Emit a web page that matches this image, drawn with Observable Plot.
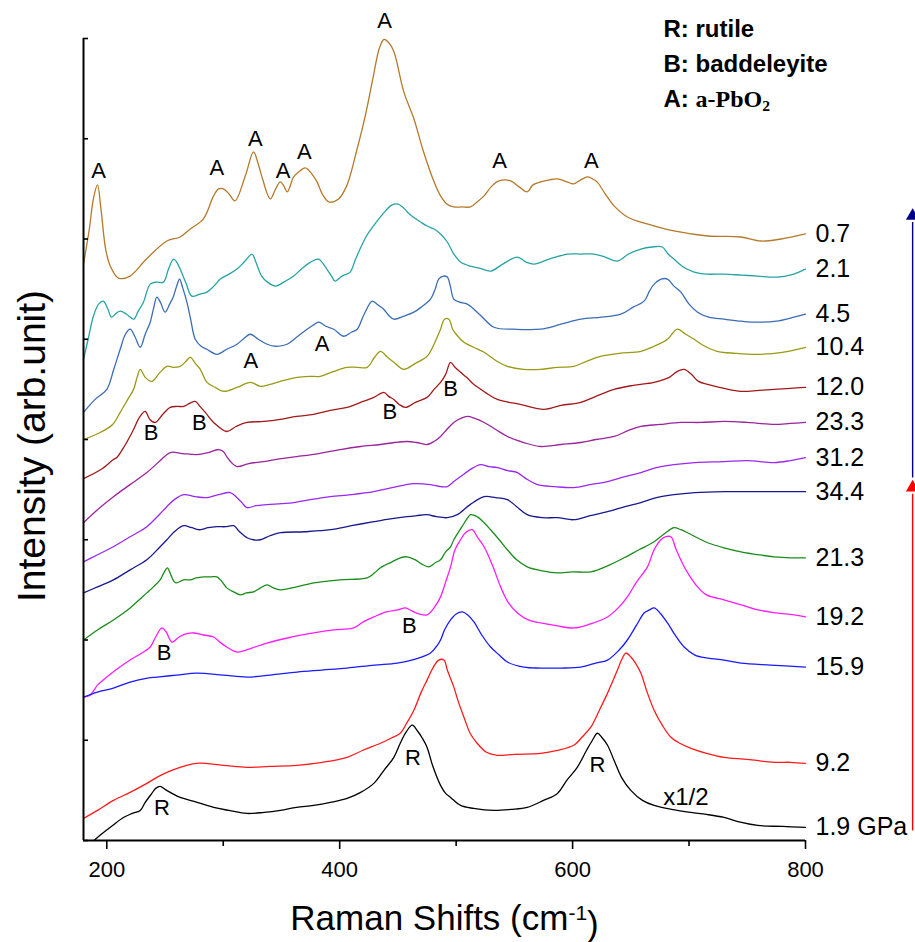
<!DOCTYPE html>
<html><head><meta charset="utf-8">
<script src="https://cdn.jsdelivr.net/npm/d3@7"></script>
<script src="https://cdn.jsdelivr.net/npm/@observablehq/plot@0.6"></script>
<style>body{margin:0;background:#fff}</style>
</head><body><div id="chart"></div>
<script>
// Pressure labels (top to bottom) and colours
const pressures = ["0.7","2.1","4.5","10.4","12.0","23.3","31.2","34.4","21.3","19.2","15.9","9.2","1.9 GPa"];
const colors = ["#b5792a","#27a3a3","#3a6db5","#9a9a14","#a31818","#9b239b","#9a28f0","#18188f","#1a8c1a","#ff1aff","#1a1aff","#ff1a1a","#000000"];

// Spectra: [Raman shift (cm-1), intensity (arb. unit, stacked)]
const s0_7 = [[180,575],[185,610],[188.5,640],[192,654],[195,630],[199,590],[203,573],[210,561],[220,563],[234,580],[251.6,598],[263,602],[271.7,610],[283,620],[291.7,643],[296,650],[300,650],[305,645],[310,638],[319,663],[326,687],[330,675],[333,663],[340.4,640],[345,650],[349,657],[352,653],[355,647],[360.5,662],[366,668],[370.5,671],[376,665],[380.6,657],[385,645],[390.6,637],[399,640],[406,653],[415,690],[422,723],[429,763],[434,790],[438,799],[442,796],[446.5,787],[455,747],[463.7,720],[472,687],[481,657],[486.6,643],[492,635],[498,632],[505,632],[512.4,632],[518,637],[524,643],[530,652],[536.7,658],[546.8,658],[554,652],[561,647],[566,654],[572.6,657],[580,659],[587,660],[595,657],[601,655],[607,659],[612.8,662],[617,660],[621,657],[628,645],[635.6,633],[647,622],[664,615],[687,608],[716,603],[744.6,602],[761.8,598],[779,600],[800,605]];
const s2_1 = [[180,480],[184,500],[188.5,523],[193,535],[197,538],[201,530],[204,522],[208,526],[211.5,528],[217,525],[223,520],[227,528],[231.5,537],[237.3,555],[243,557],[248.7,557],[253,570],[257.3,580],[260,577],[263,570],[268,556],[273,543],[280,545],[286,547],[292,553],[297.5,560],[305,565],[311.8,570],[318,577],[324.7,585],[328,577],[333,563],[338,557],[344.8,553],[352,557],[360.5,563],[368,571],[375,577],[382,580],[386,575],[389,570],[393,563],[396,558],[402,563],[409,567],[413,578],[417.5,590],[423,603],[429,613],[435,622],[440.8,630],[445,634],[449.4,635],[454,632],[458,627],[463,622],[469.4,617],[475,613],[481,610],[486.6,605],[492.4,597],[498,585],[503.8,577],[512,573],[520,571],[529.6,568],[540,575],[552.5,582],[560,577],[566.8,575],[580,580],[595.6,585],[607,585],[618.4,585],[628,582],[638.5,578],[648,585],[658.6,590],[668,592],[677,592],[682,585],[687,580],[695,572],[704.4,567],[715,565],[730,565],[745,564],[759,563],[776,562],[790,565],[800,570]];
const s4_5 = [[180,427],[190,440],[200,450],[206,470],[211.5,490],[216,505],[220,510],[224,503],[228.7,492],[233,505],[237.3,517],[240,530],[243,542],[246,537],[250,527],[254,535],[257.3,543],[260,553],[262.5,560],[265,552],[268.8,537],[272,520],[276,500],[281,493],[286,490],[294.6,485],[303,490],[311.8,495],[317,500],[323.3,505],[330,500],[337.6,495],[345,493],[354.8,495],[363,502],[372,510],[377,514],[382,517],[388,513],[394.9,510],[403.5,503],[410,507],[415,510],[421,525],[427.9,538],[432,535],[437.8,530],[442,524],[446.5,520],[455,523],[463.7,527],[470,532],[478,540],[482,550],[485,560],[489,563],[492.4,562],[495,553],[498,540],[503,537],[509.6,535],[520,525],[532.4,512],[550,510],[572.6,510],[590,515],[607,520],[625,522],[641.4,525],[652,532],[661.4,538],[666,548],[670,555],[676,560],[681.5,560],[687,553],[693,547],[700,535],[707.3,527],[717,522],[730,520],[745,518],[759,517],[775,518],[790,522],[800,525]];
const s10_4 = [[180,400],[194.3,407],[205,415],[211.5,427],[218,440],[223,450],[226,462],[228.7,470],[233,462],[238.7,458],[245,466],[251.6,473],[257,472],[263,473],[268,478],[271.7,482],[276,476],[280.3,470],[286,457],[293,452],[300.3,448],[312,452],[323.3,457],[332,453],[340.4,455],[352,459],[363.4,462],[374,463],[383.4,463],[395,468],[406.4,472],[415,472],[423.6,472],[430,482],[435,488],[441,482],[446.5,477],[455,470],[465,476],[475,483],[481,495],[486.6,510],[490,520],[493.8,520],[497,510],[500,505],[506.7,497],[515,492],[524,487],[535,478],[544,473],[558,470],[572.6,470],[587,472],[601,473],[612,478],[624,483],[640,486],[658.6,488],[670,493],[681.5,500],[690,510],[697,505],[704.4,500],[712,494],[724,488],[740,486],[759,485],[780,487],[800,492]];
const s12_0 = [[180,361],[195,370],[205.7,380],[208.6,382],[215,393],[223,410],[228,422],[233,428],[237,420],[241.6,417],[248,425],[254.5,432],[260,433],[266,433],[271,436],[276,438],[280,433],[284.6,427],[291.7,417],[303,408],[311,413],[320.4,417],[335,418],[349,420],[363,423],[377.7,425],[392,429],[406.4,432],[418,437],[429.3,442],[437.9,447],[442,443],[446.5,440],[451,435],[456.5,432],[465,437],[475,442],[481,450],[486.6,457],[491,465],[495.2,477],[499,472],[503.8,467],[509,462],[515,455],[525,447],[535.4,440],[555,435],[575.4,430],[590,434],[607,437],[620,443],[635.6,450],[652,454],[670,457],[683,462],[690,468],[695.8,470],[702,465],[708,458],[716,455],[730,451],[744.6,448],[760,449],[773,450],[787,451],[800,452]];
const s23_3 = [[180,317],[192,330],[205.7,343],[220,355],[234.4,367],[245,378],[254.5,387],[265,386],[277.4,385],[287,387],[296,390],[300,388],[303,383],[307,377],[311.8,373],[322,376],[334.7,378],[350,381],[363.4,383],[382,386],[400.6,390],[418,393],[435,395],[447,397],[458,398],[466,397],[475,395],[481,398],[486.6,403],[492,410],[498,417],[504,421],[509.6,423],[516,421],[524,417],[534,410],[544,403],[558,397],[572.6,393],[590,395],[607,397],[620,400],[635.6,403],[648,409],[658.6,413],[675,415],[692.8,417],[710,417],[730,418],[750,417],[773,415],[787,416],[800,417]];
const s31_2 = [[180,278],[192,285],[205.7,293],[220,303],[234.4,313],[245,325],[251.6,333],[258,340],[266,345],[276,343],[286,342],[296,345],[306,347],[311.8,342],[316,337],[320.4,332],[328,334],[337.6,335],[350,336],[360.5,337],[375,340],[392,343],[410,345],[429.3,348],[445,352],[463.7,356],[478,355],[486.6,353],[492.4,353],[498,358],[503.8,363],[512,370],[521,375],[528,373],[535.4,372],[544,369],[552.6,367],[560,361],[569.8,355],[585,353],[601,352],[615,355],[630,358],[645,363],[658.6,367],[672,372],[687,375],[705,377],[730,378],[750,379],[773,377],[787,379],[800,382]];
const s34_4 = [[180,247],[192,253],[205.7,260],[220,270],[234.4,280],[245,292],[251.6,300],[258,308],[266,314],[273,312],[280.3,310],[287,312],[294.6,313],[302,313],[309,314],[314,308],[320.4,302],[326,300],[331.8,300],[340,304],[349,307],[370,308],[392,310],[410,314],[429.3,318],[445,321],[458,323],[466,324],[475,325],[483,323],[492.4,322],[501,325],[512,335],[524,343],[534,342],[544,340],[552,333],[561,325],[574,322],[587,322],[601,320],[615,324],[630,328],[645,333],[658.6,337],[672,342],[687,345],[705,347],[730,348],[760,348],[800,348]];
const s21_3 = [[180,200],[192,210],[205.7,220],[220,232],[234.4,247],[240,253],[245.8,260],[249,267],[252,272],[255,265],[258,258],[260,257],[266,260],[271.7,260],[277,262],[283,263],[289,263],[294.6,263],[299,258],[303,252],[309,248],[314.6,245],[320,247],[326,248],[332,252],[337.6,255],[343,252],[349,250],[363,253],[377.7,257],[400,260],[423.6,262],[430,267],[435,272],[445,278],[452,282],[458,283],[465,280],[470,276],[476.6,273],[482,277],[486.6,280],[491,288],[495.2,293],[498,300],[505,313],[510,322],[512.4,325],[518,323],[524,317],[529.6,310],[537,300],[544,290],[552,280],[561,273],[574,269],[587,267],[600,268],[615.6,268],[630,274],[644.2,282],[657,290],[670,298],[680,307],[687,312],[693,310],[698.7,307],[707,302],[716,297],[730,292],[744.6,288],[760,285],[773,283],[787,282],[800,282]];
const s19_2 = [[180,143],[185.7,145],[192,155],[200,163],[210,172],[220,180],[230,187],[237.3,193],[242,203],[247.3,212],[251,208],[256,198],[262,203],[268,206],[274.5,207],[283,205],[291.7,203],[297,198],[303,193],[311.8,188],[322,191],[337.6,197],[355,202],[377.7,207],[395,210],[412,212],[420,218],[429.3,223],[440,228],[450,230],[456.5,232],[462,229],[468,226],[475,225],[481,232],[486.6,243],[491,258],[495.2,273],[499,290],[503.8,300],[508,307],[513.9,310],[518,303],[524,293],[531,275],[538.2,253],[545,237],[552.6,227],[562,220],[572.6,217],[587,214],[601,212],[615,216],[630,223],[640,233],[647,243],[655,258],[664.3,273],[670,290],[675.8,300],[680,303],[684.4,303],[689,290],[695.8,273],[701,263],[707.3,253],[715,245],[730,240],[745,235],[759,230],[775,227],[790,225],[800,223]];
const s15_9 = [[180,143],[192,148],[205.7,152],[220,158],[235,162],[243,163],[260,165],[277.4,167],[300,165],[320.4,163],[340,165],[363.4,168],[385,170],[406.4,172],[430,175],[449.4,177],[465,181],[478,187],[484,195],[486.6,200],[490,210],[495.2,220],[500,226],[505.3,228],[510,225],[515.3,218],[522,205],[529.6,193],[537,185],[544,178],[558,173],[572.6,172],[590,172],[607,173],[620,177],[630,180],[640,190],[647,200],[655,215],[661.4,227],[666,230],[670,232],[675,227],[681.5,217],[688,205],[695.8,193],[705,185],[716,182],[730,180],[744.6,177],[770,175],[800,173]];
const s9_2 = [[180,22],[192,30],[205.7,40],[220,48],[234.4,57],[243,63],[251.6,68],[263,73],[277.4,77],[300,75],[320.4,73],[340,74],[363.4,75],[385,78],[406.4,83],[420,90],[435,97],[444,102],[452,107],[458,118],[463.7,130],[470,148],[475,160],[480,172],[485,180],[489.5,180],[492.4,170],[498,153],[502,138],[506.7,123],[512,107],[518,97],[526,88],[535.4,85],[550,86],[572.6,87],[587,90],[601,95],[608,103],[615.6,113],[623,130],[630,147],[638.5,170],[642,180],[645.7,187],[650,183],[654,177],[658.6,167],[664,148],[670,130],[677,115],[684.4,103],[692,97],[701.6,92],[715,87],[730,83],[750,81],[773,78],[787,78],[800,77]];
const s1_9 = [[189,0],[195,6],[205,15],[214.3,23],[222,27],[228.7,30],[233,38],[238.7,47],[242,52],[245.9,54],[250,51],[256,47],[263,43],[275,39],[291.7,33],[305,30],[320.4,27],[335,28],[349,30],[363,33],[377.7,35],[392,38],[406.4,42],[418,48],[429.3,57],[438,70],[446.5,83],[452,97],[457,108],[462.3,115],[467,109],[471,102],[475,93],[480,74],[486.6,55],[491,47],[495.2,43],[503.8,35],[515,32],[532.4,30],[547,31],[561,33],[575,40],[587,47],[595,60],[604,73],[612,90],[617,100],[621.3,107],[625,103],[630,95],[635.6,80],[642,63],[650,50],[660,40],[670,35],[685,31],[701.6,28],[715,26],[730,23],[745,18],[759,15],[780,14],[800,13]];
const spectra = [s0_7,s2_1,s4_5,s10_4,s12_0,s23_3,s31_2,s34_4,s21_3,s19_2,s15_9,s9_2,s1_9];

// Peak assignments
const peakText = ["A","A","A","A","A","A","A","A","A","A","B","B","B","B","B","B","R","R","R","x1/2"];
const peakX    = [193,294.6,327.5,351.4,369.7,438.5,537.3,616.2,323.8,384.9,238.1,279.4,443,495.2,249.3,459.9,247.3,462.8,621.4,697.3];
const peakY    = [668,671,700,668,687,818,678,678,478,495,407,417,427,450,187,214,32,82,75,43];

// Axis ticks
const xMajorTicks = [200,400,600,800];
const xMinorTicks = [300,500,700];
const yTicks = [0,100,200,300,400,500,600,700,800];

// Pressure arrows in the right margin (compression: red, decompression: navy dashed)
const arrowX = 892;
const arrowFrom = [10, 362];
const arrowTo   = [346, 617];
const arrowColor = ["#ff0000", "#00008b"];

// Legend lines and axis titles
const legendLines = ["R: rutile","B: baddeleyite","A: a-PbO2"];
const yTitle = "Intensity (arb.unit)";

const rows = spectra.flatMap((s,i) => s.map(([x,y]) => ({x, y, p: pressures[i]})));
const ends = spectra.map((s,i) => ({x: s[s.length-1][0], y: s[s.length-1][1], p: pressures[i]}));
const peaks = peakText.map((t,i) => ({t, x: peakX[i], y: peakY[i]}));
const arrows = arrowFrom.map((a,i) => ({x: arrowX, y1: a, y2: arrowTo[i], c: arrowColor[i], dash: i === 1}));

const FONT = "'Liberation Sans', Arial, Helvetica, sans-serif";
const T = {textAnchor: "start", lineAnchor: "middle", fill: "#000"};

const chart = Plot.plot({
  width: 915, height: 942,
  marginLeft: 83, marginRight: 110, marginTop: 38, marginBottom: 102,
  style: {fontFamily: FONT, background: "#fff", color: "#000", overflow: "visible"},
  x: {domain: [180, 800]},
  y: {domain: [0, 800]},
  color: {domain: pressures, range: colors},
  marks: [
    Plot.line(rows, {x: "x", y: "y", z: "p", stroke: "p", strokeWidth: 1.3, curve: "catmull-rom"}),
    Plot.text(ends, {x: "x", y: "y", text: "p", dx: 10, textAnchor: "start", fontSize: 25, fill: "#000"}),
    Plot.text(peaks, {x: "x", y: "y", text: "t", fontSize: d => d.t === "x1/2" ? 24 : 22, fill: "#000"}),
    // axes
    Plot.axisX({ticks: xMajorTicks, tickSize: 9, tickPadding: 12, fontSize: 22, tickFormat: d => String(d), label: null, strokeWidth: 1.6}),
    Plot.axisX({ticks: xMinorTicks, tickSize: 6, tickFormat: () => "", label: null, strokeWidth: 1.6}),
    Plot.axisY({ticks: yTicks, tickSize: -5, tickFormat: () => "", label: null, strokeWidth: 1.6}),
    Plot.ruleY([0], {strokeWidth: 2}),
    Plot.ruleX([180], {strokeWidth: 2}),
    // x axis title
    Plot.text(["Raman Shifts (cm-1)"], {frameAnchor: "bottom", dy: 78, fontSize: 35, textAnchor: "middle", lineAnchor: "middle", fill: "#000"}),
    // legend
    Plot.text([legendLines[0]], {...T, frameAnchor: "top-left", dx: 580, dy: -8.7, fontSize: 24, fontWeight: "bold"}),
    Plot.text([legendLines[1]], {...T, frameAnchor: "top-left", dx: 580, dy: 26.3, fontSize: 24, fontWeight: "bold"}),
    Plot.text([legendLines[2]], {...T, frameAnchor: "top-left", dx: 580, dy: 61.3, fontSize: 24, fontWeight: "bold"}),
    // pressure arrows
    Plot.link(arrows, {x1: "x", x2: "x", y1: "y1", y2: "y2", stroke: "c", strokeWidth: 1.4, strokeDasharray: d => d.dash ? "4,3" : null}),
    Plot.dot(arrows, {x: "x", y: "y2", symbol: "triangle", r: 5, fill: "c", stroke: "none", dy: -6})
  ]
});

document.getElementById("chart").appendChild(chart);

// sub/superscripts
const svg = d3.select(chart);
svg.selectAll("text").each(function() {
  const t = d3.select(this);
  const s = t.text();
  if (s === "Raman Shifts (cm-1)") {
    t.text(null);
    t.append("tspan").text("Raman Shifts (cm");
    t.append("tspan").attr("dy", "-0.45em").attr("font-size", "60%").text("-1");
    t.append("tspan").attr("dy", "0.45em").text(")");
  } else if (s === "A: a-PbO2") {
    t.text(null);
    t.append("tspan").text("A: ");
    t.append("tspan").attr("font-family", "'Liberation Serif', 'Times New Roman', serif").text("a-PbO");
    t.append("tspan").attr("font-family", "'Liberation Serif', 'Times New Roman', serif").attr("font-size", "65%").attr("dy", "0.25em").text("2");
  }
});

// y axis title, centred on the frame's vertical middle, placed from the y scale
const yMid = chart.scale("y").apply(400);
svg.append("text")
  .attr("transform", `translate(31,${yMid + 7}) rotate(-90)`)
  .attr("text-anchor", "middle")
  .attr("dy", "0.35em")
  .attr("font-size", 39)
  .attr("fill", "#000")
  .attr("font-family", FONT)
  .text(yTitle);
</script>
</body></html>
